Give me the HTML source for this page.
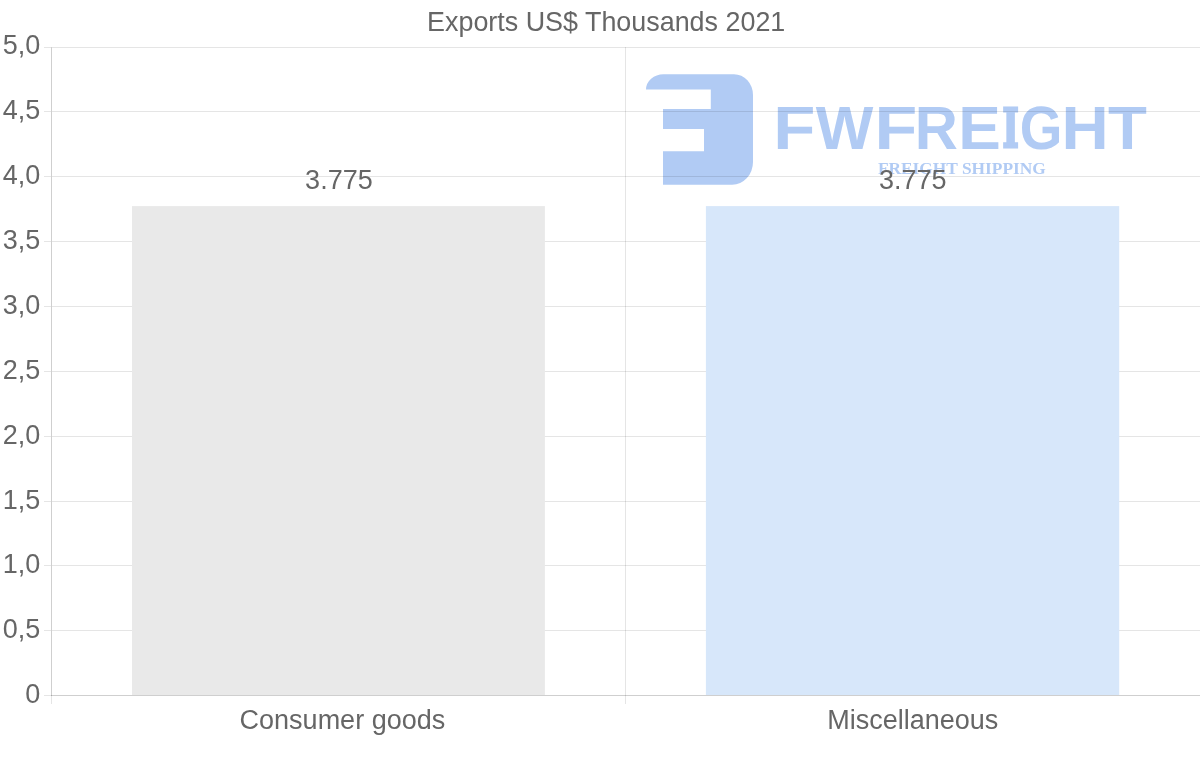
<!DOCTYPE html>
<html lang="en"><head><meta charset="utf-8"><title>Exports US$ Thousands 2021</title>
<style>
html,body{margin:0;padding:0;background:#fff;}
body{width:1200px;height:763px;overflow:hidden;font-family:"Liberation Sans",Arial,sans-serif;}
svg{display:block;}
text{font-family:"Liberation Sans",Arial,sans-serif;}
.t{fill:#666;font-size:27px;}
</style></head><body>
<svg width="1200" height="763" viewBox="0 0 1200 763">
<rect width="1200" height="763" fill="#fff"/>
<g fill="#b1cbf4">
<path d="M646 89.6 A17.5 15.4 0 0 1 663.5 74.2 H734 A19 20.8 0 0 1 753 95 V162 A20.8 22.8 0 0 1 732.2 184.8 H663 V151.3 H704 V129.1 H663 V109 H710.8 V89.6 Z"/>
<text text-rendering="geometricPrecision" y="149.1" font-weight="bold" font-size="61.19" style="font-family:'Liberation Sans',sans-serif"><tspan x="773.38" textLength="42.14" lengthAdjust="spacingAndGlyphs" y="149.1">F</tspan><tspan x="815.74" textLength="57.62" lengthAdjust="spacingAndGlyphs" y="149.1">W</tspan><tspan x="874.52" textLength="42.74" lengthAdjust="spacingAndGlyphs" y="149.1">F</tspan><tspan x="914.81" textLength="43.12" lengthAdjust="spacingAndGlyphs" y="149.1">R</tspan><tspan x="958.23" textLength="42.56" lengthAdjust="spacingAndGlyphs" y="149.1">E</tspan><tspan x="1002.38" textLength="16.22" lengthAdjust="spacingAndGlyphs" y="147.05" font-size="53.63" stroke="#b1cbf4" stroke-width="3.0" stroke-linejoin="miter" style="font-family:'DejaVu Serif','Liberation Serif',serif">I</tspan><tspan x="1019.75" textLength="42.65" lengthAdjust="spacingAndGlyphs" y="149.1">G</tspan><tspan x="1061.43" textLength="47.17" lengthAdjust="spacingAndGlyphs" y="149.1">H</tspan><tspan x="1107.98" textLength="38.90" lengthAdjust="spacingAndGlyphs" y="149.1">T</tspan></text>
<text x="877.9" y="174.2" font-weight="bold" font-size="17.35" style="font-family:'Liberation Serif',serif">FREIGHT SHIPPING</text>
</g>
<rect x="44" y="630.0" width="7" height="1" fill="rgba(0,0,0,0.1)"/><rect x="52" y="630.0" width="1148" height="1" fill="rgba(0,0,0,0.1)"/>
<rect x="44" y="565.0" width="7" height="1" fill="rgba(0,0,0,0.1)"/><rect x="52" y="565.0" width="1148" height="1" fill="rgba(0,0,0,0.1)"/>
<rect x="44" y="501.0" width="7" height="1" fill="rgba(0,0,0,0.1)"/><rect x="52" y="501.0" width="1148" height="1" fill="rgba(0,0,0,0.1)"/>
<rect x="44" y="436.0" width="7" height="1" fill="rgba(0,0,0,0.1)"/><rect x="52" y="436.0" width="1148" height="1" fill="rgba(0,0,0,0.1)"/>
<rect x="44" y="371.0" width="7" height="1" fill="rgba(0,0,0,0.1)"/><rect x="52" y="371.0" width="1148" height="1" fill="rgba(0,0,0,0.1)"/>
<rect x="44" y="306.0" width="7" height="1" fill="rgba(0,0,0,0.1)"/><rect x="52" y="306.0" width="1148" height="1" fill="rgba(0,0,0,0.1)"/>
<rect x="44" y="241.0" width="7" height="1" fill="rgba(0,0,0,0.1)"/><rect x="52" y="241.0" width="1148" height="1" fill="rgba(0,0,0,0.1)"/>
<rect x="44" y="176.0" width="7" height="1" fill="rgba(0,0,0,0.1)"/><rect x="52" y="176.0" width="1148" height="1" fill="rgba(0,0,0,0.1)"/>
<rect x="44" y="111.0" width="7" height="1" fill="rgba(0,0,0,0.1)"/><rect x="52" y="111.0" width="1148" height="1" fill="rgba(0,0,0,0.1)"/>
<rect x="44" y="47.0" width="7" height="1" fill="rgba(0,0,0,0.1)"/><rect x="52" y="47.0" width="1148" height="1" fill="rgba(0,0,0,0.1)"/>
<rect x="44" y="695.0" width="7" height="1" fill="rgba(0,0,0,0.1)"/>
<rect x="51" y="47" width="1" height="649" fill="rgba(0,0,0,0.19)"/><rect x="51" y="696" width="1" height="8" fill="rgba(0,0,0,0.1)"/>
<rect x="625" y="47" width="1" height="657" fill="rgba(0,0,0,0.1)"/>
<rect x="132" y="206.1" width="412.9" height="488.9" fill="#e9e9e9"/>
<rect x="705.9" y="206.1" width="413.3" height="488.9" fill="#d7e7fa"/>
<rect x="51" y="695.0" width="1149" height="1" fill="rgba(0,0,0,0.19)"/>
<text class="t" x="606.2" y="31" text-anchor="middle" style="font-size:26.9px">Exports US$ Thousands 2021</text>
<text class="t" x="40.25" y="702.7" text-anchor="end">0</text>
<text class="t" x="40.25" y="637.7" text-anchor="end">0,5</text>
<text class="t" x="40.25" y="572.7" text-anchor="end">1,0</text>
<text class="t" x="40.25" y="508.7" text-anchor="end">1,5</text>
<text class="t" x="40.25" y="443.7" text-anchor="end">2,0</text>
<text class="t" x="40.25" y="378.7" text-anchor="end">2,5</text>
<text class="t" x="40.25" y="313.7" text-anchor="end">3,0</text>
<text class="t" x="40.25" y="248.7" text-anchor="end">3,5</text>
<text class="t" x="40.25" y="183.7" text-anchor="end">4,0</text>
<text class="t" x="40.25" y="118.7" text-anchor="end">4,5</text>
<text class="t" x="40.40" y="53.7" text-anchor="end">5,0</text>
<text class="t" x="338.9" y="189.3" text-anchor="middle">3.775</text>
<text class="t" x="912.8" y="189.3" text-anchor="middle">3.775</text>
<text class="t" x="342.4" y="729.4" text-anchor="middle">Consumer goods</text>
<text class="t" x="912.8" y="729.4" text-anchor="middle">Miscellaneous</text>
</svg>
</body></html>
